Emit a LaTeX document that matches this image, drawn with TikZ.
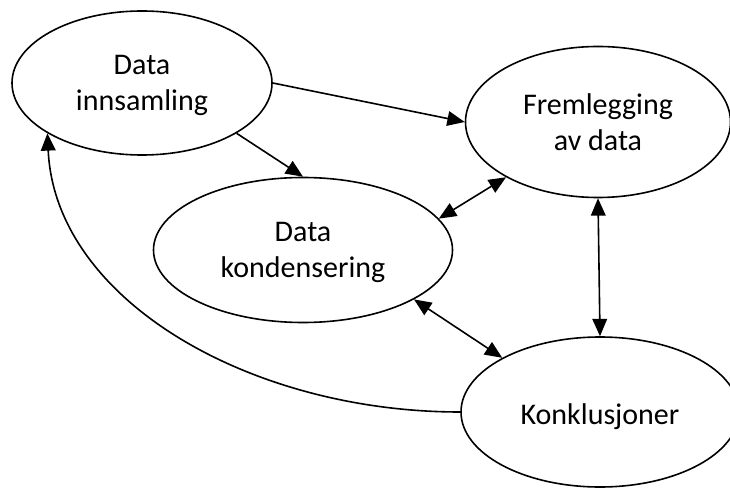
\documentclass[tikz,border=0pt]{standalone}
\usepackage{fontspec}
\setmainfont{Carlito}
\usetikzlibrary{shapes.geometric,arrows.meta}

\begin{document}
\begin{tikzpicture}[x=0.75pt,y=-0.75pt,line width=1.2pt,
    >={Triangle[length=13pt,width=11pt]},
    every node/.style={draw,ellipse,align=center,inner sep=0pt,
    text depth=-1pt,font=\fontsize{22.5}{27.5}\selectfont}]
  \useasboundingbox (0,0) rectangle (730,491);

  \node[minimum width=260pt*0.75,minimum height=144pt*0.75] (inn) at (142,83) {Data\\innsamling};
  \node[minimum width=265pt*0.75,minimum height=151pt*0.75] (frem) at (598,122) {Fremlegging\\av data};
  \node[minimum width=299pt*0.75,minimum height=145pt*0.75] (kond) at (303,250) {Data\\kondensering};
  \node[minimum width=278pt*0.75,minimum height=150pt*0.75,
    text height=19pt,text depth=0pt] (konk) at (600,412) {Konklusjoner};

  \draw[->] (inn.east)--(frem.west);
  \draw[->] (inn.-28)--(kond.north);
  \draw[<->] (kond.13)--(frem.-149);
  \draw[<->] (frem.south)--(konk.north);
  \draw[<->] (kond.-24)--(konk.151);
  \draw[->] (konk.west).. controls (250,412) and (55,300) ..(inn.-152);
\end{tikzpicture}
\end{document}
